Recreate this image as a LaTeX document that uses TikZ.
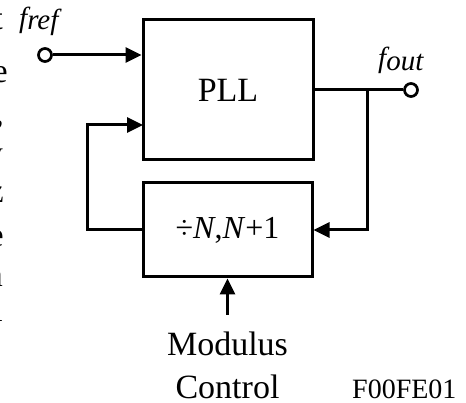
\documentclass[tikz,border=0pt]{standalone}
\usepackage{fontspec}
\setmainfont{Liberation Serif}
\usetikzlibrary{arrows.meta,positioning,calc}

\begin{document}
\begin{tikzpicture}[
  x=1pt, y=-1pt,
  >={Triangle[length=16pt,width=15pt]},
  every node/.style={font=\fontsize{34}{43}\selectfont},
  block/.style={draw, line width=3pt, inner sep=0pt},
  arrow/.style={->, line width=3pt},
  wire/.style={line width=3pt},
  port/.style={circle, draw, line width=2.7pt, fill=white,
               minimum size=13pt, inner sep=0pt},
  sig/.style={font=\fontsize{29}{29}\selectfont\itshape,
              inner sep=0pt, anchor=base west},
  frag/.style={anchor=base east, inner sep=0pt},
]
  \useasboundingbox (0,0) rectangle (466,403);

  % cut-off page text at the left margin
  \begin{scope}
    \clip (0,0) rectangle (466,403);
    \foreach \ch/\y/\xr in {t/30/3, e/83/8, {,}/125/4, y/165/3,
                            z/203/4, e/247/4, n/287/3, l/322/3}
      \node[frag] (fr\y) at (\xr,\y) {\ch};
  \end{scope}

  \node[block, minimum width=170pt, minimum height=140pt] (pll)
    at (228,90) {PLL};
  \node[block, minimum width=169pt, minimum height=94pt,
        font=\fontsize{32}{32}\selectfont] (div)
    at (227.5,230) {÷\textit{N},\textit{N}+1};

  \node[port] (ref) at (45,55) {};
  \node[port] (out) at (411,90) {};
  \node[sig] (reflbl) at (19,28) {f\raisebox{-2pt}{ref}};
  \node[sig] (outlbl) at (378,68) {f\raisebox{-3pt}{out}};

  \draw[arrow] (ref) -- (ref -| pll.west);
  \draw[wire] (pll.east) -- (out);

  % feedback through the divider
  \coordinate (tap) at (367,90);
  \coordinate (fbin) at (143,125);
  \draw[arrow] (tap) |- (div.east);
  \draw[arrow] (div.west) -- ++(-54,0) |- (fbin);

  \node[anchor=north, inner xsep=0pt, inner ysep=17pt, align=center] (mod)
    at (227.5,315) {Modulus\\Control};
  \draw[arrow] (mod.north) -- (div.south);

  \node[anchor=base west, inner sep=0pt,
        font=\fontsize{28}{28}\selectfont] (fig) at (352,399) {F00FE01};
\end{tikzpicture}
\end{document}
